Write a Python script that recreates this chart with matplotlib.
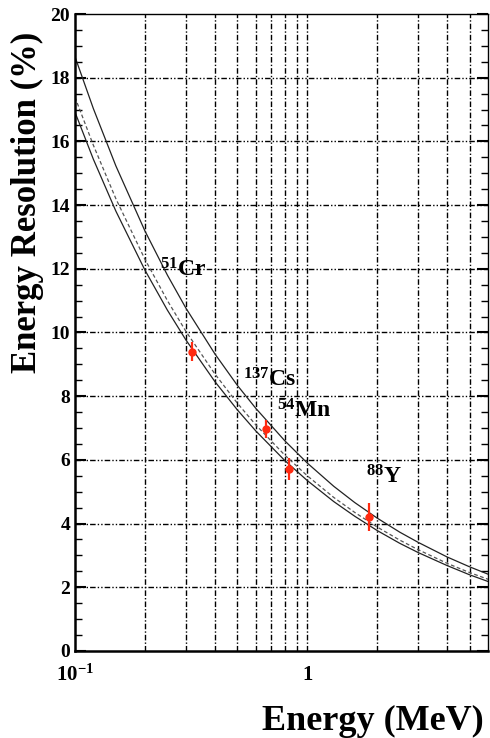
import matplotlib
matplotlib.use('Agg')
import matplotlib.pyplot as plt

plt.rcParams['font.family'] = ['Liberation Serif', 'DejaVu Serif']
plt.rcParams['font.weight'] = 'bold'
plt.rcParams['mathtext.fontset'] = 'custom'
plt.rcParams['mathtext.rm'] = 'Liberation Serif:bold'
plt.rcParams['mathtext.it'] = 'Liberation Serif:bold'
plt.rcParams['mathtext.bf'] = 'Liberation Serif:bold'
plt.rcParams['mathtext.default'] = 'rm'

# fit curves (energy in MeV, resolution in %)
curve_e = [0.1, 0.12, 0.15, 0.2, 0.25, 0.3, 0.4, 0.5, 0.6, 0.8, 1.0,
           1.3, 1.6, 2.0, 2.5, 3.0, 4.0, 5.0, 6.0]
upper = [18.66, 17.03, 15.23, 13.19, 11.80, 10.77, 9.33, 8.34, 7.62, 6.60, 5.90,
         5.17, 4.66, 4.17, 3.73, 3.41, 2.95, 2.64, 2.41]
middle = [17.39, 15.88, 14.20, 12.30, 11.00, 10.04, 8.70, 7.78, 7.10, 6.15, 5.50,
          4.82, 4.35, 3.89, 3.48, 3.18, 2.75, 2.46, 2.25]
lower = [16.92, 15.44, 13.81, 11.96, 10.70, 9.77, 8.46, 7.57, 6.91, 5.98, 5.35,
         4.69, 4.23, 3.78, 3.38, 3.09, 2.68, 2.39, 2.18]

# measured sources
src_e = [0.320, 0.662, 0.835, 1.836]
src_res = [9.40, 6.97, 5.71, 4.22]
src_err = [0.30, 0.28, 0.35, 0.44]
src_names = [r'$^{51}$Cr', r'$^{137}$Cs', r'$^{54}$Mn', r'$^{88}$Y']
label_pos = [(0.232, 11.75), (0.53, 8.3), (0.74, 7.32), (1.79, 5.27)]

fig = plt.figure(figsize=(4.9, 7.38), dpi=100)
ax = fig.add_axes([0.153, 0.118, 0.843, 0.863])

ax.set_xscale('log')
ax.set_xlim(0.1, 6.0)
ax.set_ylim(0, 20)

grid_x = [0.2, 0.3, 0.4, 0.5, 0.6, 0.7, 0.8, 0.9, 1, 2, 3, 4, 5]
for gx in grid_x:
    ax.axvline(gx, color='black', lw=1.0, ls=(0, (4, 1.5, 1, 1.5)), zorder=1)
for gy in range(2, 20, 2):
    ax.axhline(gy, color='black', lw=1.0, ls=(0, (4, 1.5, 1, 1.5, 1, 1.5)), zorder=1)

ax.plot(curve_e, upper, color='#222222', lw=0.9, zorder=2)
ax.plot(curve_e, middle, color='#555555', lw=0.9, ls=(0, (3, 2)), zorder=2)
ax.plot(curve_e, lower, color='#222222', lw=0.9, zorder=2)

ax.errorbar(src_e, src_res, yerr=src_err, fmt='o', color='#ff2a10',
            ms=5, elinewidth=1.6, capsize=0, zorder=3)

for name, (lx, ly) in zip(src_names, label_pos):
    ax.text(lx, ly, name, fontsize=17, fontweight='bold', ha='left',
            va='baseline', zorder=4)

ax.set_yticks(range(0, 21, 2))
ax.set_yticks([i * 0.5 for i in range(41)], minor=True)
ax.set_xticks([0.1, 1])
ax.set_xticklabels([r'$10^{-1}$', '1'])
ax.set_xticks([], minor=True)
ax.tick_params(axis='y', which='both', direction='in', right=True, labelsize=14)
ax.tick_params(axis='y', which='major', length=8, width=1.5)
ax.tick_params(axis='y', which='minor', length=5, width=1)
ax.tick_params(axis='x', which='both', length=0, labelsize=15, pad=10)

for side in ['left', 'bottom']:
    ax.spines[side].set_linewidth(1.8)
for side in ['top', 'right']:
    ax.spines[side].set_linewidth(1.0)

ax.set_ylabel('Energy Resolution (%)', fontsize=25, fontweight='bold')
ax.yaxis.set_label_coords(-0.075, 0.705)
ax.set_xlabel('Energy (MeV)', fontsize=26, fontweight='bold')
ax.xaxis.set_label_coords(0.99, -0.085)
ax.xaxis.label.set_horizontalalignment('right')

fig.savefig('out.png', dpi=100)
